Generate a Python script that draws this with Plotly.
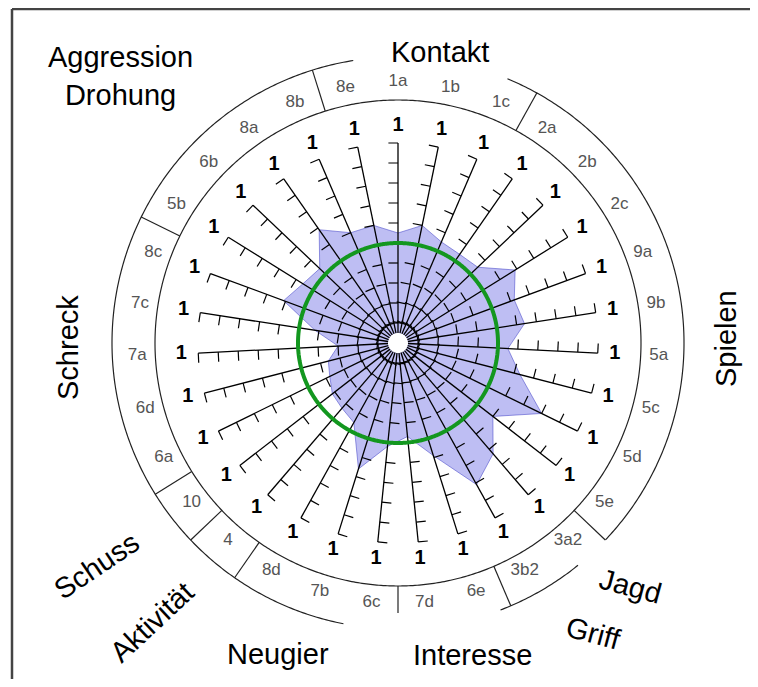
import math
import plotly.graph_objects as go

# ---------------- data ----------------
CATEGORIES = ["1a", "1b", "1c", "2a", "2b", "2c", "9a", "9b", "5a", "5c", "5d",
              "5e", "3a2", "3b2", "6e", "7d", "6c", "7b", "8d", "4", "10", "6a",
              "6d", "7a", "7c", "8c", "5b", "6b", "8a", "8b", "8e"]
VALUES = [0.55, 0.60, 0.55, 0.54, 0.55, 0.69, 0.62, 0.64, 0.55, 0.63, 0.80,
          0.60, 0.73, 0.81, 0.59, 0.47, 0.52, 0.66, 0.455, 0.43, 0.415, 0.38,
          0.36, 0.30, 0.42, 0.61, 0.56, 0.54, 0.69, 0.60, 0.60]
REFERENCE_LEVEL = 0.5
TICK_VALUES = [0.1, 0.2, 0.3, 0.4, 0.5, 0.6, 0.7, 0.8, 0.9, 1.0]
AXIS_END_LABEL = "1"
GROUP_NAMES = ["Kontakt", "Spielen", "Jagd", "Griff", "Interesse", "Neugier",
               "Aktivität", "Schuss", "Schreck", "Aggression<br>Drohung"]
GROUP_MEMBERS = [["8e", "1a", "1b", "1c"],
                 ["2a", "2b", "2c", "9a", "9b", "5a", "5c", "5d", "5e"],
                 ["3a2"], ["3b2"], ["6e", "7d"], ["6c", "7b", "8d"],
                 ["4"], ["10"], ["6a", "6d", "7a", "7c", "8c"],
                 ["5b", "6b", "8a", "8b"]]

# ---------------- geometry / style ----------------
# the page places the figure 8 px from the top-left corner
OFF = 8
W, H = 758 - 2 * OFF, 687 - 2 * OFF
CX, CY, RPX = 398 - OFF, 343 - OFF, 290   # polar centre / radius in figure px
RMAX = 1.45
N = len(CATEGORIES)
STEP = 360.0 / N
THETA = [i * STEP for i in range(N)]
HOLE = 0.05
TICK_LEN = 0.048
R_INNER = 1.215
R_OUTER = 1.43
FONT = "Liberation Sans, Arial, sans-serif"

group_of = {}
for g, members in enumerate(GROUP_MEMBERS):
    for m in members:
        group_of[m] = g


def hidden_outer(t):
    t = t % 360
    if t > 351 or t < 22.5:        # behind the "Kontakt" caption
        return True
    if 159 < t < 191:              # cut at the bottom
        return True
    if 133.5 < t < 140.9:          # "Jagd" segment has no outer rim
        return True
    return False


fig = go.Figure()
ring_t = [k * 0.5 for k in range(721)]

# filled profile
fig.add_trace(go.Scatterpolar(
    r=VALUES + [VALUES[0]], theta=THETA + [THETA[0]], mode="lines",
    fill="toself", fillcolor="#bebef3",
    line=dict(color="rgba(70,70,200,0.55)", width=1), hoverinfo="skip"))

# white hole at the centre
fig.add_trace(go.Scatterpolar(r=[HOLE] * len(ring_t), theta=ring_t, mode="lines",
                              fill="toself", fillcolor="white",
                              line=dict(color="white", width=0), hoverinfo="skip"))

# spokes
sr, st = [], []
for t in THETA:
    sr += [HOLE, 1.0, None]
    st += [t, t, None]
fig.add_trace(go.Scatterpolar(r=sr, theta=st, mode="lines",
                              line=dict(color="black", width=1.3), hoverinfo="skip"))

# one-sided ticks
tr, tt = [], []
for t in THETA:
    for v in TICK_VALUES:
        tr += [v, math.hypot(v, TICK_LEN), None]
        tt += [t, t - math.degrees(math.atan2(TICK_LEN, v)), None]
fig.add_trace(go.Scatterpolar(r=tr, theta=tt, mode="lines",
                              line=dict(color="black", width=1.2), hoverinfo="skip"))

# inner ring
fig.add_trace(go.Scatterpolar(r=[R_INNER] * len(ring_t), theta=ring_t, mode="lines",
                              line=dict(color="#222", width=1.2), hoverinfo="skip"))
# outer ring (with gaps)
orr = [None if hidden_outer(t) else R_OUTER for t in ring_t]
fig.add_trace(go.Scatterpolar(r=orr, theta=ring_t, mode="lines",
                              line=dict(color="#222", width=1.2), hoverinfo="skip"))

# group dividers
dr, dt = [], []
for i in range(N):
    a, b = CATEGORIES[i], CATEGORIES[(i + 1) % N]
    ga, gb = group_of[a], group_of[b]
    if ga == gb or {ga, gb} == {2, 3}:
        continue
    ang = THETA[i] + STEP / 2
    rend = 1.35 if 159 < ang % 360 < 191 else R_OUTER
    dr += [R_INNER, rend, None]
    dt += [ang, ang, None]
fig.add_trace(go.Scatterpolar(r=dr, theta=dt, mode="lines",
                              line=dict(color="#222", width=1.2), hoverinfo="skip"))

# reference circle
fig.add_trace(go.Scatterpolar(r=[REFERENCE_LEVEL] * len(ring_t), theta=ring_t, mode="lines",
                              line=dict(color="#13971f", width=4), hoverinfo="skip"))

# axis end labels "1"
fig.add_trace(go.Scatterpolar(r=[1.085] * N, theta=THETA, mode="text",
                              text=[AXIS_END_LABEL] * N,
                              textfont=dict(family=FONT, size=20, color="black", weight="bold"),
                              hoverinfo="skip"))
# category labels
fig.add_trace(go.Scatterpolar(r=[1.305] * N, theta=THETA, mode="text",
                              text=CATEGORIES,
                              textfont=dict(family=FONT, size=17, color="#555"),
                              hoverinfo="skip"))

# group captions (page-pixel centre, rotation)
CAPTION_POS = {
    "Kontakt": (440, 52, 0),
    "Spielen": (726, 339, -90),
    "Jagd": (630, 586, 15),
    "Griff": (593, 633, 15),
    "Interesse": (472, 655, 0),
    "Neugier": (278, 654, 0),
    "Aktivität": (152, 622, -43),
    "Schuss": (96, 566, -34),
    "Schreck": (68, 347, -90),
    "Aggression<br>Drohung": (120, 76, 0),
}
for name in GROUP_NAMES:
    x, y, ang = CAPTION_POS[name]
    fig.add_annotation(x=(x - OFF) / W, y=1 - (y - OFF) / H, xref="paper", yref="paper",
                       text=name, showarrow=False, textangle=ang,
                       xanchor="center", yanchor="middle",
                       font=dict(family=FONT, size=29, color="black"))

# frame (only the top and left edges are visible in the picture)
fx0 = (12 - OFF) / W
fy1 = 1 - (9 - OFF) / H
fig.add_shape(type="line", xref="paper", yref="paper", x0=fx0, x1=1, y0=fy1, y1=fy1,
              line=dict(color="#444", width=2.5))
fig.add_shape(type="line", xref="paper", yref="paper", x0=fx0, x1=fx0, y0=0, y1=fy1,
              line=dict(color="#444", width=2.5))

fig.update_layout(
    width=W, height=H, margin=dict(l=0, r=0, t=0, b=0),
    paper_bgcolor="white", plot_bgcolor="white", showlegend=False,
    polar=dict(
        domain=dict(x=[(CX - RPX) / W, (CX + RPX) / W],
                    y=[(H - CY - RPX) / H, (H - CY + RPX) / H]),
        bgcolor="rgba(0,0,0,0)",
        radialaxis=dict(visible=False, range=[0, RMAX]),
        angularaxis=dict(visible=False, direction="clockwise", rotation=90,
                         thetaunit="degrees"),
    ),
)

fig.write_html("out.html")
